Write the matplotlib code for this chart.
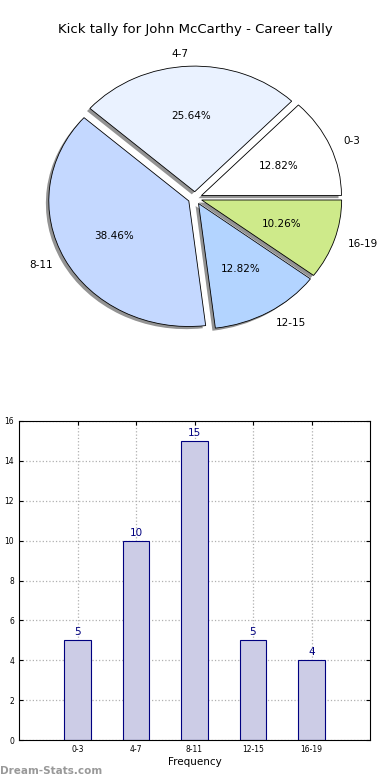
import matplotlib
matplotlib.use("Agg")
import matplotlib.pyplot as plt

# Data
ranges = ["0-3", "4-7", "8-11", "12-15", "16-19"]
tally = [5, 10, 15, 5, 4]
pie_colors = ["#ffffff", "#eaf2ff", "#c4d8ff", "#b3d4ff", "#ceea8a"]

fig = plt.figure(figsize=(3.9, 7.8), dpi=100)
W, H = 390.0, 780.0

# Pie chart (top)
ax1 = fig.add_axes([20 / W, 1 - 355 / H, 350 / W, 314 / H])
ax1.pie(tally, labels=ranges, colors=pie_colors, explode=[0.05] * len(tally),
        autopct="%1.2f%%", startangle=0, labeldistance=1.1,
        shadow={"ox": -0.015, "oy": -0.015, "facecolor": "#808080",
                "edgecolor": "none", "alpha": 0.85},
        wedgeprops={"edgecolor": "black", "linewidth": 0.6},
        textprops={"fontsize": 7.5})
ax1.set_aspect("auto")
fig.text(0.5, 1 - 30 / H, "Kick tally for John McCarthy - Career tally",
         ha="center", va="center", fontsize=9.5)

# Bar chart (bottom)
ax2 = fig.add_axes([19 / W, 1 - 740 / H, 351 / W, 319 / H])
pos = list(range(len(ranges)))
ax2.bar(pos, tally, width=0.45, color="#ccccE6", edgecolor="navy", linewidth=0.8, zorder=2)
for x, v in zip(pos, tally):
    ax2.text(x, v + 0.15, str(v), ha="center", va="bottom", color="navy", fontsize=7.5)
ax2.set_xlim(-1, 5)
ax2.set_ylim(0, 16)
ax2.set_yticks(range(0, 17, 2))
ax2.set_xticks(pos)
ax2.set_xticklabels(ranges)
ax2.tick_params(labelsize=5.5, direction="in", top=True, right=True, length=3)
ax2.grid(True, linestyle=":", color="#b0b0b0", linewidth=0.9, zorder=0)
ax2.set_axisbelow(True)
ax2.set_xlabel("Frequency", fontsize=7.5, labelpad=2)
ax2.set_ylabel("Tally in that range", fontsize=7, labelpad=4)

fig.text(0, 1 - 771 / H, "Dream-Stats.com", ha="left", va="center",
         color="#999999", fontsize=7.5, fontweight="bold")

fig.savefig("out.png", dpi=100)
